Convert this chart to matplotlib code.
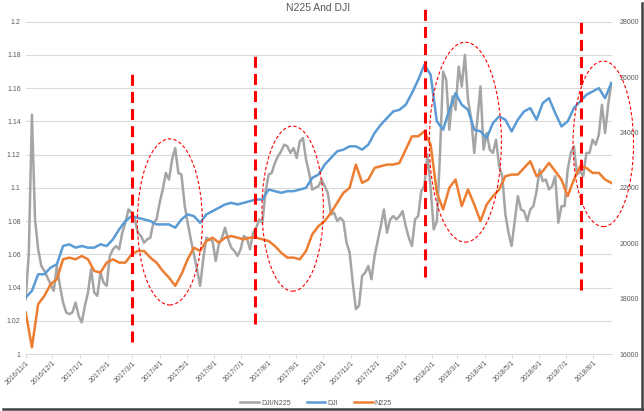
import matplotlib
matplotlib.use("Agg")
import matplotlib.pyplot as plt
import matplotlib.dates as mdates
from matplotlib.patches import Ellipse
from matplotlib.lines import Line2D
from matplotlib.ticker import MultipleLocator, FuncFormatter
import pandas as pd

plt.rcParams['font.family'] = ['Liberation Sans', 'DejaVu Sans']

# DJI/N225 ratio
ratio_dates = pd.date_range('2016-11-01', '2018-08-21', freq='84h')
ratio = [
    1.033, 1.061, 1.144, 1.081, 1.063, 1.053, 1.050, 1.046, 1.042, 1.038,
    1.053, 1.041, 1.031, 1.025, 1.024, 1.025, 1.031, 1.023, 1.019, 1.029,
    1.037, 1.051, 1.037, 1.035, 1.049, 1.043, 1.041, 1.059, 1.063, 1.065,
    1.063, 1.073, 1.079, 1.087,
    1.085, 1.081, 1.073, 1.071, 1.067, 1.069, 1.070, 1.079, 1.081, 1.091,
    1.099, 1.109, 1.105, 1.117, 1.124, 1.109, 1.108, 1.090, 1.079, 1.069,
    1.060, 1.051, 1.041, 1.057, 1.070, 1.069, 1.068, 1.056, 1.066, 1.070,
    1.076, 1.069, 1.064,
    1.062, 1.059, 1.063, 1.071, 1.070, 1.063, 1.073, 1.076, 1.081, 1.079,
    1.098, 1.108, 1.109, 1.115, 1.119, 1.122, 1.126, 1.125, 1.121, 1.124,
    1.118, 1.128, 1.130, 1.117, 1.109, 1.099, 1.100, 1.101, 1.105, 1.101,
    1.097, 1.084, 1.085, 1.080,
    1.082, 1.080, 1.067, 1.061, 1.043, 1.027, 1.029, 1.047, 1.049, 1.053,
    1.045, 1.059, 1.068, 1.077, 1.087, 1.073, 1.081, 1.083, 1.081, 1.083,
    1.086, 1.077, 1.070, 1.065, 1.081, 1.083, 1.098, 1.101, 1.120, 1.100,
    1.075, 1.080, 1.120,
    1.170, 1.165, 1.135, 1.155, 1.147, 1.173, 1.161, 1.180, 1.153, 1.142,
    1.121, 1.141, 1.161, 1.123, 1.133, 1.123, 1.121, 1.129, 1.113, 1.107,
    1.084, 1.073, 1.065, 1.080, 1.095, 1.087, 1.086, 1.080, 1.087, 1.089,
    1.098, 1.111, 1.104, 1.105, 1.099,
    1.101, 1.107, 1.079, 1.089, 1.089, 1.111, 1.121, 1.125, 1.108, 1.110,
    1.107, 1.121, 1.121, 1.129, 1.126, 1.132, 1.150, 1.133, 1.150, 1.163,
]

# weekly index levels
index_dates = pd.date_range('2016-11-01', '2018-08-21', freq='7D')
dji = [
    18040, 18280, 18880, 18880, 19120, 19240, 19900, 19960, 19840, 19900,
    19840, 19840, 19960, 19900, 20140, 20500, 20800, 20980, 20920, 20860,
    20800, 20680, 20680, 20680, 20560, 20860, 21040, 20980, 20740, 21040,
    21160, 21280, 21400, 21460, 21400, 21460, 21520, 21580, 21580, 21940,
    21880, 21820, 21880, 21880, 21940, 22000, 22360, 22480, 22840, 23080,
    23320, 23380, 23500, 23500, 23380, 23560, 23980, 24280, 24520, 24760,
    24820, 25000, 25420, 25900, 26450, 26080, 24400, 24100, 24820, 25420,
    25000, 24820, 24100, 24040, 23800, 24340, 24580, 24460, 24040, 24460,
    24760, 24880, 24460, 25060, 25240, 24700, 24220, 24400, 24880, 25120,
    25360, 25480, 25600, 25240, 25780,
]
n225 = [
    17500, 16240, 17800, 18100, 18520, 18700, 19420, 19480, 19420, 19540,
    19420, 19000, 18940, 19300, 19420, 19300, 19300, 19600, 19720, 19720,
    19480, 19300, 19000, 18760, 18460, 18880, 19420, 19840, 19720, 20080,
    20200, 20020, 20200, 20260, 20200, 20140, 20200, 20200, 20140, 20080,
    19900, 19660, 19480, 19480, 19420, 19720, 20320, 20620, 20800, 21100,
    21460, 21820, 22000, 22840, 22180, 22300, 22720, 22780, 22840, 22840,
    22900, 23380, 23860, 23860, 24040, 23560, 21820, 21220, 22000, 22300,
    21340, 21940, 21400, 20800, 21400, 21700, 21940, 22420, 22480, 22480,
    22720, 22960, 22420, 22600, 22900, 22600, 22300, 21700, 22300, 22780,
    22720, 22540, 22540, 22300, 22180,
]

# hand-drawn markings (right-axis units)
signal_dates = ['2017-02-28', '2017-07-17', '2018-01-24', '2018-07-18']
signal_low = [16440, 17080, 18790, 18310]
signal_high = [26260, 26920, 28600, 28120]
zone_centers = ['2017-04-12', '2017-08-28', '2018-03-10', '2018-08-12']
zone_levels = [20770, 21250, 23650, 23590]
zone_days = [73, 69, 81, 68]
zone_spans = [6000, 5960, 7220, 5980]

W, H = 644, 411
fig = plt.figure(figsize=(W / 100, H / 100), dpi=100)
ax = fig.add_axes([25.7 / W, 1 - 354 / H, (612 - 25.7) / W, (354 - 21.7) / H])
ax2 = ax.twinx()

grey = '#595959'
ax.plot(ratio_dates, ratio, color='#A5A5A5', lw=1.8, label='DJI/N225')
ax2.plot(index_dates, dji, color='#5B9BD5', lw=1.8, label='DJI')
ax2.plot(index_dates, n225, color='#ED7D31', lw=1.8, label='N225')

start = pd.Timestamp('2016-11-01')
ax.set_xlim(start, start + pd.Timedelta(days=658.8))
ax.set_ylim(1, 1.2)
ax2.set_ylim(16000, 28000)
ax.yaxis.set_major_locator(MultipleLocator(0.02))
ax.yaxis.set_major_formatter(FuncFormatter(lambda v, _: f'{round(v, 2):g}'))
ax2.yaxis.set_major_locator(MultipleLocator(2000))
ax.xaxis.set_major_locator(mdates.MonthLocator(bymonthday=1))


def date_label(x, _):
    d = mdates.num2date(x)
    return f'{d.year}/{d.month}/{d.day}'


ax.xaxis.set_major_formatter(FuncFormatter(date_label))

ax.set_axisbelow(True)
ax.yaxis.grid(True, color='#D9D9D9', lw=0.75)
for a in (ax, ax2):
    for s in a.spines.values():
        s.set_visible(False)
ax.spines['bottom'].set_visible(True)
ax.spines['bottom'].set_color('#D9D9D9')
ax.spines['bottom'].set_linewidth(0.75)

ax.tick_params(axis='y', length=0, pad=3.6, labelsize=5, labelcolor=grey)
ax2.tick_params(axis='y', length=0, pad=5.5, labelsize=5, labelcolor=grey)
ax.tick_params(axis='x', length=3, width=0.75, color='#D9D9D9', pad=1,
               labelsize=5, labelcolor=grey)
for lab in ax.get_xticklabels():
    lab.set_rotation(45)
    lab.set_ha('right')
    lab.set_rotation_mode('anchor')

for d, lo, hi in zip(signal_dates, signal_low, signal_high):
    ax2.plot([pd.Timestamp(d), pd.Timestamp(d)], [lo, hi], color='#FF0000',
             lw=2.2, linestyle=(0, (3.6, 2.0)), dash_capstyle='butt',
             clip_on=False, zorder=5)

for c, lvl, w, h in zip(zone_centers, zone_levels, zone_days, zone_spans):
    e = Ellipse((mdates.date2num(pd.Timestamp(c)), lvl), width=w, height=h,
                fill=False, edgecolor='#FF0000', lw=0.8,
                linestyle=(0, (3, 2)), clip_on=False, zorder=5)
    ax2.add_patch(e)

fig.text(318 / W, 1 - 8 / H, 'N225 And DJI', ha='center', va='center',
         fontsize=7.5, color=grey)

h1, l1 = ax.get_legend_handles_labels()
h2, l2 = ax2.get_legend_handles_labels()
fig.legend(h1 + h2, l1 + l2, loc='center',
           bbox_to_anchor=(316 / W, 1 - 403 / H), ncol=3, frameon=False,
           fontsize=5, handlelength=2.7, handletextpad=0.3,
           columnspacing=2.3, labelcolor=grey)

# chart frame shadow
fig.add_artist(Line2D([3 / W, 643 / W], [1 - 408.5 / H, 1 - 408.5 / H],
                      transform=fig.transFigure, color='#404040', lw=1.8))
fig.add_artist(Line2D([641.5 / W, 641.5 / W], [1 - 3 / H, 1 - 408.5 / H],
                      transform=fig.transFigure, color='#404040', lw=1.8))

fig.savefig('out.png', dpi=100)
